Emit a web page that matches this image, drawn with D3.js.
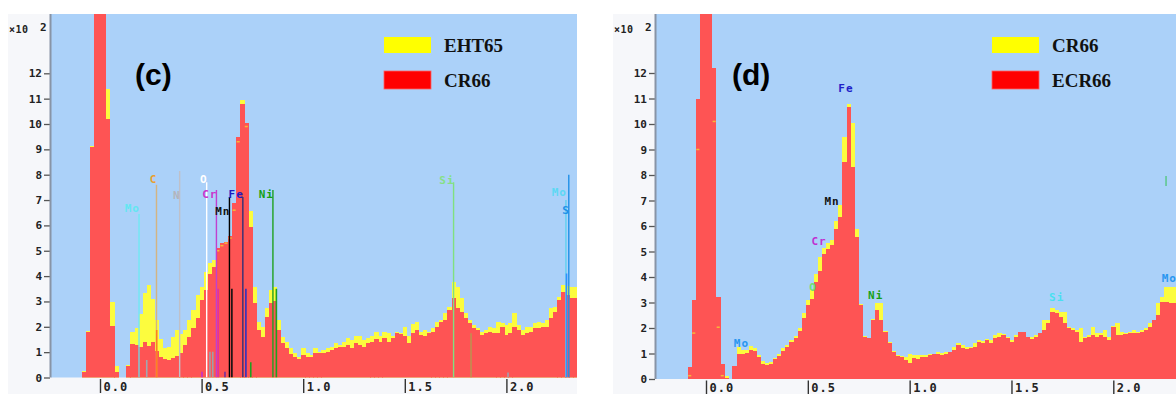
<!DOCTYPE html>
<html lang="en">
<head>
<meta charset="UTF-8">
<title>EDS spectra (c) and (d)</title>
<script src="https://d3js.org/d3.v7.min.js"></script>
<style>
    body { margin: 0; background: #ffffff; }
    svg { display: block; }
    .y-tick text { font-family: "DejaVu Sans Mono", monospace; font-weight: bold; font-size: 11px; fill: #222; }
    .x-tick text { font-family: "DejaVu Sans Mono", monospace; font-weight: bold; font-size: 12px; fill: #222; letter-spacing: 1px; }
    .el-label { font-family: "DejaVu Sans Mono", monospace; font-weight: bold; font-size: 11px; letter-spacing: 1px; }
    .legend-text { font-family: "Liberation Serif", "Times New Roman", serif; font-weight: bold; font-size: 19px; fill: #111; }
    .panel-tag { font-family: "Liberation Sans", Arial, sans-serif; font-weight: bold; font-size: 30px; fill: #000; }
    .mult { font-family: "DejaVu Sans Mono", monospace; font-weight: bold; fill: #222; }
</style>
</head>
<body>
<div id="chart"></div>
<script>
    // bins: 0.02 keV wide, first bin starts at -0.25 keV
    const binStart = -0.25;
    const binWidth = 0.02;

    // panel (c): yellow = EHT65, red = CR66  (counts x100)
    const cYellow = [0, 0, 0, 0, 0, 0, 0, 0,
        0.25, 1.85, 9.15, 18, 18, 18, 11.38, 2.97, 0.47, 0, 0, 0.5,
        1.8, 1.95, 2.5, 3.35, 3.65, 3.1, 2.25, 1.5, 1.15, 1.2,
        1.6, 1.87, 1.7, 1.87, 2.27, 2.66, 3.25, 3.58, 4.17, 4.5,
        4.63, 5.0, 5.2, 5.3, 5.5, 6.6, 9.3, 10.95, 9.9, 6.55,
        3.58, 2.2, 2.0, 2.73, 3.45, 3.58, 2.27, 1.6, 1.4, 1.15,
        0.95, 0.82, 1.15, 0.95, 0.89, 1.15, 1.02, 1.08, 1.15, 1.22,
        1.35, 1.28, 1.41, 1.55, 1.48, 1.62, 1.64, 1.48, 1.55, 1.62,
        1.8, 1.62, 1.8, 1.74, 1.62, 1.8, 1.74, 2.0, 1.62, 2.13,
        2.2, 1.8, 1.87, 1.8, 1.95, 2.2, 2.27, 2.53, 2.79, 3.78,
        3.58, 3.12, 2.53, 2.27, 2.07, 1.94, 1.8, 1.87, 2.0, 1.94,
        2.2, 2.14, 2.07, 2.14, 2.53, 2.07, 1.87, 2.0, 2.0, 2.14,
        2.2, 2.14, 2.27, 2.73, 2.79, 3.19, 3.65, 3.6, 3.58, 3.58];
    const cRed = [0, 0, 0, 0, 0, 0, 0, 0,
        0.2, 1.78, 9.08, 18, 18, 18, 10.2, 2.04, 0.2, 0, 0, 0.47,
        1.32, 1.3, 1.2, 1.4, 1.25, 1.4, 1.05, 0.8, 0.72, 0.7,
        0.75, 0.85, 0.95, 1.28, 1.6, 1.94, 2.33, 3.06, 3.45, 4.1,
        4.37, 5.1, 5.3, 5.36, 5.6, 6.9, 9.5, 10.8, 10.05, 5.95,
        2.93, 1.87, 1.6, 2.4, 2.93, 3.0, 1.87, 1.35, 1.15, 0.92,
        0.82, 0.72, 0.89, 0.82, 0.82, 0.95, 0.95, 0.98, 1.02, 1.08,
        1.15, 1.22, 1.22, 1.28, 1.15, 1.35, 1.28, 1.22, 1.35, 1.41,
        1.5, 1.41, 1.55, 1.41, 1.55, 1.74, 1.71, 1.62, 1.35, 1.74,
        1.87, 1.68, 1.62, 1.74, 1.8, 2.0, 2.2, 2.27, 2.66, 3.15,
        2.73, 2.6, 2.33, 2.14, 1.94, 1.87, 1.68, 1.74, 1.8, 1.74,
        1.74, 2.0, 1.68, 1.74, 2.0, 1.87, 1.68, 1.74, 1.8, 1.94,
        1.94, 2.0, 2.0, 2.33, 2.6, 3.06, 3.38, 3.25, 3.12, 3.12];

    // panel (d): yellow = CR66, red = ECR66
    const dYellow = [0, 0, 0, 0, 0, 0, 0, 0,
        0.13, 1.8, 9.0, 18, 18, 18, 10.1, 2.03, 0.13, 0.1, 0, 0.5,
        1.25, 1.12, 1.15, 1.3, 1.22, 0.95, 0.72, 0.62, 0.68, 0.84,
        0.98, 1.2, 1.33, 1.52, 1.7, 2.0, 2.6, 3.1, 3.5, 4.1,
        4.8, 5.15, 5.35, 5.45, 6.2, 6.82, 9.5, 10.8, 10.03, 5.9,
        2.95, 1.7, 1.62, 2.35, 2.97, 2.97, 1.9, 1.45, 1.1, 0.95,
        0.9, 0.85, 1.0, 0.94, 0.94, 0.94, 0.94, 1.0, 1.0, 1.07,
        1.03, 1.07, 1.07, 1.27, 1.4, 1.33, 1.27, 1.27, 1.4, 1.53,
        1.5, 1.55, 1.53, 1.73, 1.79, 1.76, 1.66, 1.53, 1.73, 1.86,
        1.86, 1.66, 1.66, 1.73, 1.79, 2.31, 2.31, 2.77, 2.7, 2.64,
        2.64, 2.05, 1.99, 1.92, 1.99, 1.66, 1.73, 2.05, 1.79, 1.79,
        1.92, 1.66, 2.08, 2.18, 1.86, 1.79, 1.86, 1.92, 1.86, 1.92,
        1.99, 2.18, 2.31, 2.97, 3.23, 3.62, 3.6, 3.6];
    const dRed = [0, 0, 0, 0, 0, 0, 0, 0,
        0.46, 3.1, 11.0, 18, 18, 18, 12.2, 3.23, 0.6, 0.05, 0, 0.5,
        1.0, 1.0, 1.03, 1.15, 1.1, 0.85, 0.6, 0.54, 0.6, 0.77,
        0.92, 1.08, 1.25, 1.45, 1.62, 1.9, 2.4, 2.9, 3.15, 3.8,
        4.25, 4.9, 5.1, 5.25, 5.9, 6.37, 8.52, 10.68, 8.33, 5.58,
        2.9, 1.66, 1.6, 2.31, 2.7, 2.31, 1.85, 1.4, 1.04, 0.91,
        0.85, 0.75, 0.61, 0.81, 0.77, 0.88, 0.88, 0.94, 0.98, 1.0,
        0.94, 1.0, 1.07, 1.14, 1.33, 1.2, 1.16, 1.2, 1.27, 1.46,
        1.4, 1.53, 1.4, 1.6, 1.66, 1.73, 1.6, 1.46, 1.66, 1.86,
        1.86, 1.66, 1.56, 1.66, 1.79, 1.92, 2.18, 2.64, 2.6, 2.44,
        2.18, 1.99, 1.92, 1.86, 1.46, 1.6, 1.66, 1.73, 1.66, 1.73,
        1.66, 1.53, 2.05, 1.73, 1.73, 1.76, 1.79, 1.79, 1.79, 1.86,
        1.92, 2.05, 2.31, 2.5, 3.03, 3.03, 3.0, 3.0];

    const yTicks = [0, 1, 2, 3, 4, 5, 6, 7, 8, 9, 10, 11, 12];
    const xTicks = [0, 0.5, 1.0, 1.5, 2.0];
    const cLegend = ["EHT65", "CR66"];
    const dLegend = ["CR66", "ECR66"];

    // element markers (energy keV, line top and label height in axis units)
    const cElements = [
        { el: "Mo", e: 0.192, top: 6.45, lab: 6.65, color: "#64e6f2", line: "#70e8f4" },
        { el: "C", e: 0.278, top: 7.6, lab: 7.8, color: "#e8a030", line: "#d4b482" },
        { el: "N", e: 0.392, top: 8.15, lab: 7.16, color: "#b4b4bc", line: "#c0c0c8" },
        { el: "O", e: 0.525, top: 7.7, lab: 7.83, color: "#ffffff", line: "#ffffff" },
        { el: "Cr", e: 0.573, top: 7.4, lab: 7.2, color: "#cc33cc", line: "#c040d0" },
        { el: "Mn", e: 0.637, top: 7.12, lab: 6.54, color: "#111111", line: "#000000" },
        { el: "Fe", e: 0.703, top: 7.12, lab: 7.2, color: "#1c1cc0", line: "#303078" },
        { el: "Ni", e: 0.851, top: 7.4, lab: 7.2, color: "#16a016", line: "#20a020" },
        { el: "Si", e: 1.740, top: 7.7, lab: 7.79, color: "#86e086", line: "#80e080" },
        { el: "Mo", e: 2.293, top: 7.0, lab: 7.28, color: "#5cd8f4", line: "#60d0f0" },
        { el: "S", e: 2.307, top: 8.0, lab: 6.57, color: "#1e90e8", line: "#2090e8" }
    ];
    const cMinorLines = [
        { e: 0.192, top: 1.2, line: "#a0a8b0" },
        { e: 0.230, top: 0.69, line: "#a0a8b0" },
        { e: 0.279, top: 1.87, line: "#ff8020" },
        { e: 0.502, top: 0.23, line: "#c030d0" },
        { e: 0.541, top: 1.02, line: "#a0a0a8" },
        { e: 0.555, top: 1.02, line: "#a0a0a8" },
        { e: 0.582, top: 3.5, line: "#e030a0" },
        { e: 0.615, top: 0.23, line: "#7030a0" },
        { e: 0.649, top: 3.5, line: "#101010" },
        { e: 0.718, top: 3.5, line: "#3030c0" },
        { e: 0.742, top: 0.6, line: "#20a020" },
        { e: 0.868, top: 3.5, line: "#20a020" },
        { e: 1.826, top: 1.75, line: "#c09050" },
        { e: 2.008, top: 0.2, line: "#a0a0b0" },
        { e: 2.296, top: 4.1, line: "#3090ff" }
    ];
    const dElements = [
        { el: "Mo", e: 0.192, lab: 1.41, color: "#2896f0" },
        { el: "O", e: 0.525, lab: 3.57, color: "#70e070" },
        { el: "Cr", e: 0.573, lab: 5.38, color: "#c030d0" },
        { el: "Mn", e: 0.637, lab: 6.95, color: "#111111" },
        { el: "Fe", e: 0.705, lab: 11.41, color: "#2020c8" },
        { el: "Ni", e: 0.851, lab: 3.29, color: "#18a018" },
        { el: "Si", e: 1.740, lab: 3.18, color: "#48e0f0" },
        { el: "Mo", e: 2.293, lab: 3.96, color: "#2896f0" }
    ];
    const dMinorLines = [
        { e: 2.259, from: 7.57, top: 7.96, line: "#60c890" }
    ];

    const W = 1176, H = 394;
    const svg = d3.select("#chart").append("svg")
        .attr("width", W)
        .attr("height", H);

    const panels = [
        { id: "c", tag: "(c)", yellow: cYellow, red: cRed, legend: cLegend, elements: cElements,
          minor: cMinorLines, frameLeft: 8, axisX: 51, right: 577, top: 14, x0: 100, kev: 203.2,
          y0: 377.5, unit: 25.35, legendX: 384, tagX: 135, labelDx: 1, withLines: true },
        { id: "d", tag: "(d)", yellow: dYellow, red: dRed, legend: dLegend, elements: dElements,
          minor: dMinorLines, frameLeft: 613, axisX: 656, right: 1176, top: 14, x0: 706, kev: 203.65,
          y0: 379, unit: 25.5, legendX: 992, tagX: 732, labelDx: 4, withLines: false }
    ];

    panels.forEach(p => drawPanel(p));

    function drawPanel(p) {
        const g = svg.append("g").attr("class", "panel-" + p.id);

        const x = d3.scaleLinear().domain([0, 2]).range([p.x0, p.x0 + 2 * p.kev]);
        const y = d3.scaleLinear().domain([0, 12]).range([p.y0, p.y0 - 12 * p.unit]);

        // frame + plot background
        g.append("rect")
            .attr("x", p.frameLeft).attr("y", p.top)
            .attr("width", p.right - p.frameLeft).attr("height", H - p.top)
            .attr("fill", "#f6f7fa");
        g.append("rect")
            .attr("x", p.axisX).attr("y", p.top)
            .attr("width", p.right - p.axisX).attr("height", p.y0 - p.top)
            .attr("fill", "#abd1f9");

        const clipId = "clip-" + p.id;
        svg.append("clipPath").attr("id", clipId)
            .append("rect")
            .attr("x", p.axisX).attr("y", p.top)
            .attr("width", p.right - p.axisX).attr("height", p.y0 - p.top);

        const plot = g.append("g").attr("clip-path", `url(#${clipId})`);

        const binX = i => x(binStart + i * binWidth);
        const binW = i => binX(i + 1) - binX(i) + 0.3;

        // yellow series behind, red in front
        plot.append("g").selectAll("rect")
            .data(p.yellow)
            .join("rect")
            .attr("x", (d, i) => binX(i))
            .attr("width", (d, i) => binW(i))
            .attr("y", d => y(d))
            .attr("height", d => p.y0 - y(d))
            .attr("fill", "#fcfc3e")
            .attr("shape-rendering", "crispEdges");

        plot.append("g").selectAll("rect")
            .data(p.red)
            .join("rect")
            .attr("x", (d, i) => binX(i))
            .attr("width", (d, i) => binW(i))
            .attr("y", d => y(d))
            .attr("height", d => p.y0 - y(d))
            .attr("fill", "#fe5454")
            .attr("shape-rendering", "crispEdges");

        // little marks where the yellow level is hidden inside the red bar
        const hidden = p.yellow.map((v, i) => ({ v, i })).filter(d => d.v > 0 && d.v < p.red[d.i] - 0.05);
        plot.append("g").selectAll("rect")
            .data(hidden)
            .join("rect")
            .attr("x", d => binX(d.i) + 0.5)
            .attr("width", d => binW(d.i) - 1.3)
            .attr("y", d => y(d.v) - 0.75)
            .attr("height", 1.5)
            .attr("fill", "#f7b838");

        // element lines
        if (p.withLines) {
            plot.append("g").selectAll("line")
                .data(p.elements)
                .join("line")
                .attr("x1", d => x(d.e)).attr("x2", d => x(d.e))
                .attr("y1", d => y(d.top)).attr("y2", p.y0)
                .attr("stroke", d => d.line)
                .attr("stroke-width", 1.4);
        }
        plot.append("g").selectAll("line")
            .data(p.minor)
            .join("line")
            .attr("x1", d => x(d.e)).attr("x2", d => x(d.e))
            .attr("y1", d => y(d.top)).attr("y2", d => d.from ? y(d.from) : p.y0)
            .attr("stroke", d => d.line)
            .attr("stroke-width", 1.6);

        plot.append("g").selectAll("text")
            .data(p.elements)
            .join("text")
            .attr("class", "el-label")
            .attr("x", d => x(d.e) + p.labelDx)
            .attr("y", d => y(d.lab))
            .attr("text-anchor", "end")
            .attr("dominant-baseline", "central")
            .attr("fill", d => d.color)
            .text(d => d.el);

        // left axis
        const yAxis = d3.axisLeft(y).tickValues(yTicks).tickSize(6).tickPadding(2);
        const ya = g.append("g")
            .attr("class", "y-tick")
            .attr("transform", `translate(${p.axisX - 1},0)`)
            .call(yAxis);
        ya.select(".domain").remove();
        ya.selectAll("line").attr("stroke", "#555").attr("stroke-width", 1.3);

        g.append("line")
            .attr("x1", p.axisX - 0.5).attr("x2", p.axisX - 0.5)
            .attr("y1", p.top).attr("y2", p.y0)
            .attr("stroke", "#8894a6").attr("stroke-width", 2);

        // bottom axis: "|0.0" style ticks
        const xAxis = d3.axisBottom(x).tickValues(xTicks).tickSize(14).tickFormat(d3.format(".1f"));
        const xa = g.append("g")
            .attr("class", "x-tick")
            .attr("transform", `translate(0,${p.y0 + 1.5})`)
            .call(xAxis);
        xa.select(".domain").remove();
        xa.selectAll("line").attr("stroke", "#333").attr("stroke-width", 1.4);
        xa.selectAll("text")
            .attr("text-anchor", "start")
            .attr("x", 3)
            .attr("y", 3)
            .attr("dy", "0.71em");

        // multiplier
        g.append("text")
            .attr("class", "mult")
            .attr("x", p.frameLeft + 1).attr("y", 33)
            .attr("font-size", 10)
            .attr("letter-spacing", 0.5)
            .text("\u00d710");
        g.append("text")
            .attr("class", "mult")
            .attr("x", p.axisX - 11).attr("y", 31)
            .attr("font-size", 11)
            .text("2");

        // legend
        const legendColors = ["#ffff00", "#ff0000"];
        const lg = g.append("g");
        lg.selectAll("rect")
            .data(p.legend)
            .join("rect")
            .attr("x", p.legendX)
            .attr("y", (d, i) => i === 0 ? 37 : 71)
            .attr("width", 47)
            .attr("height", (d, i) => i === 0 ? 16 : 18)
            .attr("fill", (d, i) => legendColors[i])
            .attr("stroke", (d, i) => i === 0 ? "none" : "#ff6060")
            .attr("stroke-width", 0.8);
        lg.selectAll("text")
            .data(p.legend)
            .join("text")
            .attr("class", "legend-text")
            .attr("x", p.legendX + 60)
            .attr("y", (d, i) => i === 0 ? 52 : 87)
            .text(d => d);

        g.append("text")
            .attr("class", "panel-tag")
            .attr("x", p.tagX)
            .attr("y", 85)
            .text(p.tag);
    }
</script>
</body>
</html>
